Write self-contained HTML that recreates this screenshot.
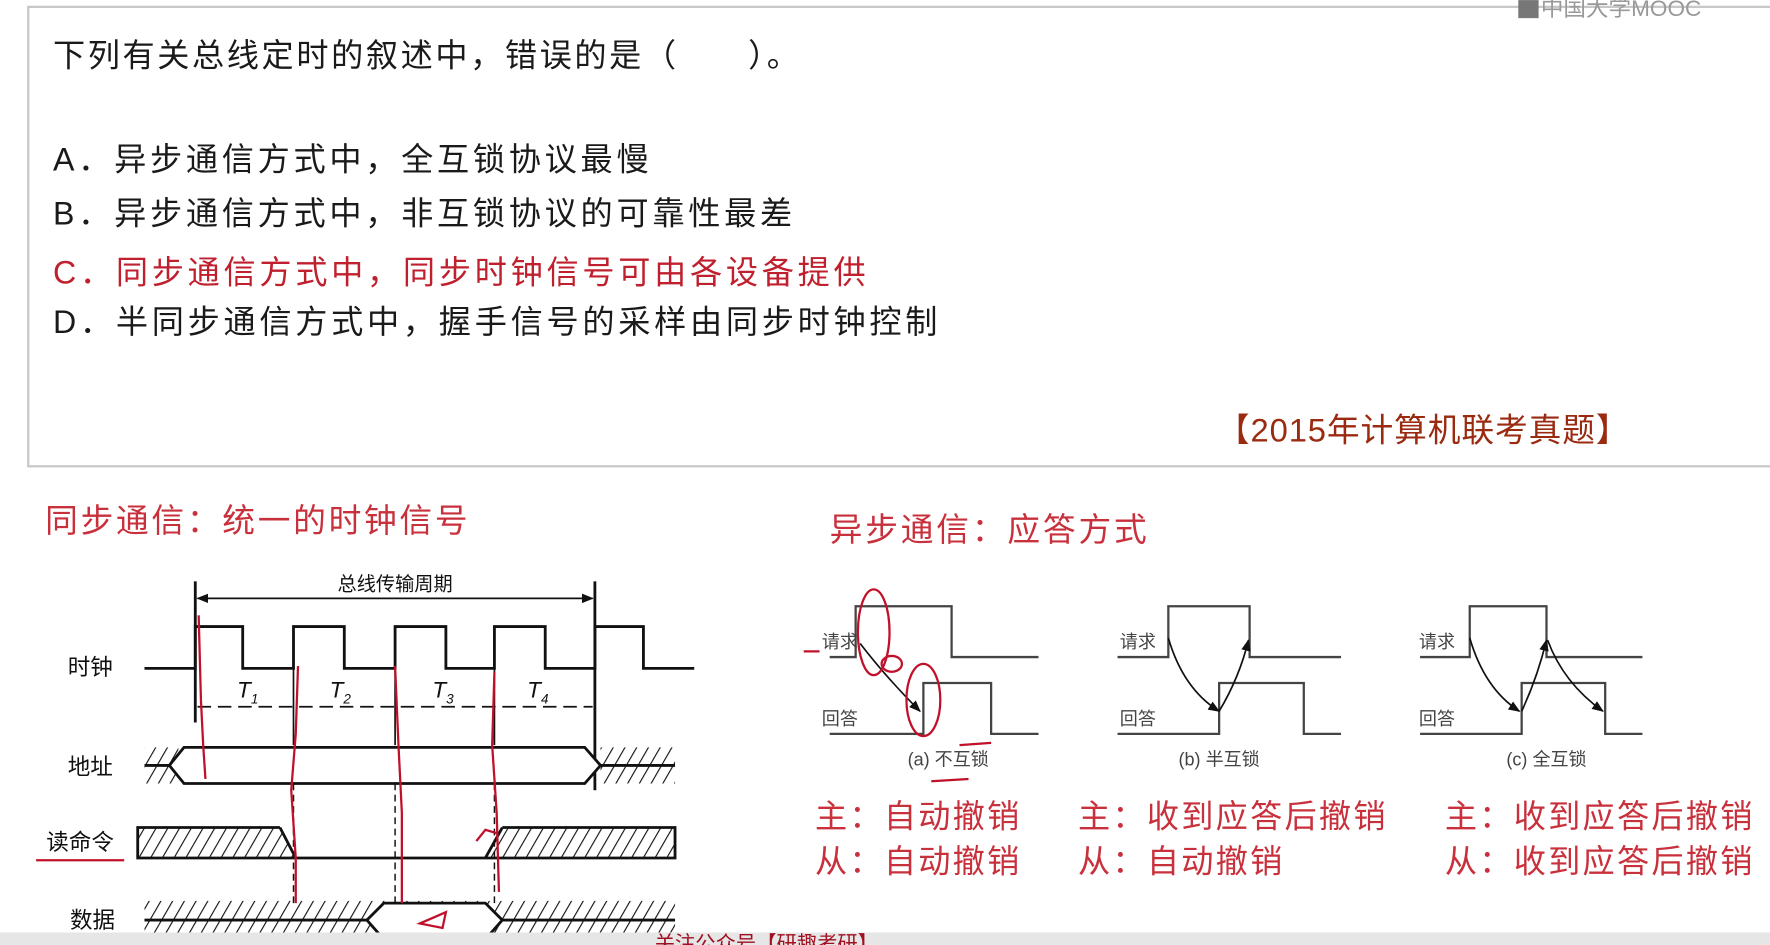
<!DOCTYPE html>
<html><head><meta charset="utf-8"><style>
html,body{margin:0;padding:0;background:#fff;width:1770px;height:945px;overflow:hidden}
svg{display:block}
text{font-family:"Liberation Sans","Noto Sans CJK SC",sans-serif}
.cjk{font-family:"Noto Sans CJK SC",sans-serif}
.serif{font-family:"Liberation Serif","Noto Serif CJK SC",serif}
</style></head><body>
<svg width="1770" height="945" viewBox="0 0 1568 837" xmlns="http://www.w3.org/2000/svg">
<defs>
<pattern id="h" width="9" height="9" patternUnits="userSpaceOnUse" patternTransform="rotate(30)">
<line x1="0" y1="0" x2="0" y2="9" stroke="#111" stroke-width="2"/>
</pattern>
<marker id="ar" viewBox="0 0 10 10" refX="9" refY="5" markerWidth="7" markerHeight="7" orient="auto-start-reverse"><path d="M0,1 L10,5 L0,9z" fill="#111"/></marker>
</defs>
<rect x="0" y="0" width="1568" height="837" fill="#fff"/>
<rect x="25" y="6" width="1560" height="407" fill="#fff" stroke="#c8c8c8" stroke-width="2"/>
<text x="1365" y="14" font-size="20" fill="#999">中国大学MOOC</text>
<rect x="1345" y="0" width="18" height="16" fill="#777"/>
<g font-size="28.5" fill="#1a1a1a" letter-spacing="3.3">
<text x="47" y="59" letter-spacing="2.3">下列有关总线定时的叙述中，错误的是（　　）。</text>
<text x="47" y="151">A．异步通信方式中，全互锁协议最慢</text>
<text x="47" y="199">B．异步通信方式中，非互锁协议的可靠性最差</text>
<text x="47" y="251" fill="#c0202e">C．同步通信方式中，同步时钟信号可由各设备提供</text>
<text x="47" y="295">D．半同步通信方式中，握手信号的采样由同步时钟控制</text>
</g>
<text x="1078" y="391" font-size="29" fill="#9a2a10" letter-spacing="0.8">【2015年计算机联考真题】</text>

<text x="40" y="471" font-size="29" fill="#c8303c" class="cjk" letter-spacing="2.4">同步通信：统一的时钟信号</text>
<text x="735" y="479" font-size="29" fill="#c8303c" class="cjk" letter-spacing="2.5">异步通信：应答方式</text>

<g stroke="#111" stroke-width="2.5" fill="none">
<line x1="173" y1="515" x2="173" y2="640"/>
<line x1="527" y1="515" x2="527" y2="700"/>
<line x1="175" y1="530" x2="525" y2="530" marker-start="url(#ar)" marker-end="url(#ar)" stroke-width="1.5"/>
<polyline points="128,592 173,592 173,555 215,555 215,592 260,592 260,555 305,555 305,592 350,592 350,555 395,555 395,592 438,592 438,555 483,555 483,592 527,592 527,555 570,555 570,592 615,592"/>
<line x1="175" y1="626" x2="525" y2="626" stroke-width="1.5" stroke-dasharray="12,6"/>
<line x1="260" y1="592" x2="260" y2="660" stroke-width="1.5"/>
<line x1="350" y1="592" x2="350" y2="660" stroke-width="1.5"/>
<line x1="438" y1="592" x2="438" y2="660" stroke-width="1.5"/>
</g>
<text x="350" y="523" font-size="17" text-anchor="middle" fill="#111" class="cjk">总线传输周期</text>
<g font-size="20" font-style="italic" fill="#111" class="serif">
<text x="210" y="618">T<tspan font-size="12" dy="5">1</tspan></text>
<text x="292" y="618">T<tspan font-size="12" dy="5">2</tspan></text>
<text x="383" y="618">T<tspan font-size="12" dy="5">3</tspan></text>
<text x="467" y="618">T<tspan font-size="12" dy="5">4</tspan></text>
</g>
<g font-size="20" fill="#111" class="cjk">
<text x="60" y="598">时钟</text>
<text x="60" y="686">地址</text>
<text x="41" y="753">读命令</text>
<text x="62" y="822">数据</text>
</g>
<rect x="128" y="662" width="30" height="32" fill="url(#h)"/>
<rect x="532" y="662" width="66" height="32" fill="url(#h)"/>
<polygon points="150,678 163,662 518,662 532,678 518,694 163,694" stroke="#111" stroke-width="2.5" fill="#fff"/>
<g stroke="#111" stroke-width="2.5"><line x1="128" y1="678" x2="150" y2="678"/><line x1="532" y1="678" x2="598" y2="678"/></g>
<polygon points="122,733 248,733 262,760 122,760" fill="url(#h)"/>
<polygon points="445,733 598,733 598,760 430,760" fill="url(#h)"/>
<g stroke="#111" stroke-width="2.5" fill="none">
<polyline points="248,733 122,733 122,760 598,760 598,733 445,733"/>
<line x1="248" y1="733" x2="262" y2="760"/><line x1="445" y1="733" x2="430" y2="760"/>
</g>
<rect x="128" y="798" width="470" height="36" fill="url(#h)"/>
<polygon points="325,815 340,800 430,800 445,815 430,832 340,832" fill="#fff" stroke="#111" stroke-width="2.5"/>
<g stroke="#111" stroke-width="2.5"><line x1="128" y1="815" x2="325" y2="815"/><line x1="445" y1="815" x2="598" y2="815"/></g>
<g stroke="#111" stroke-width="1.3" stroke-dasharray="6,4">
<line x1="260" y1="694" x2="260" y2="800"/><line x1="350" y1="694" x2="350" y2="800"/><line x1="438" y1="694" x2="438" y2="800"/>
</g>
<g stroke="#c0102a" stroke-width="2" fill="none">
<path d="M176,545 L178,620 L180,660 L182,690"/>
<path d="M264,590 L262,650 L258,700 L262,760 L262,800"/>
<path d="M350,590 L353,660 L356,720 L356,800"/>
<path d="M438,595 L436,660 L440,720 L442,790"/>
<path d="M32,762 L110,762"/>
<path d="M372,818 L395,808 L392,822 Z"/>
<path d="M422,745 L430,735 L440,738"/>
</g>

<g stroke="#444" stroke-width="2" fill="none">
<polyline points="735,582 758,582 758,537 843,537 843,582 920,582"/>
<polyline points="735,650 818,650 818,605 878,605 878,650 920,650"/>
<polyline points="990,582 1035,582 1035,537 1107,537 1107,582 1188,582"/>
<polyline points="990,650 1080,650 1080,605 1155,605 1155,650 1188,650"/>
<polyline points="1258,582 1302,582 1302,537 1370,537 1370,582 1455,582"/>
<polyline points="1258,650 1348,650 1348,605 1422,605 1422,650 1455,650"/>
</g>
<g stroke="#111" stroke-width="1.5" fill="none">
<path d="M762,570 Q785,600 815,630" marker-end="url(#ar)"/>
<path d="M1035,565 Q1048,610 1080,630" marker-end="url(#ar)"/>
<path d="M1080,630 Q1098,600 1106,567" marker-end="url(#ar)"/>
<path d="M1302,565 Q1315,610 1346,630" marker-end="url(#ar)"/>
<path d="M1348,630 Q1362,600 1370,567" marker-end="url(#ar)"/>
<path d="M1371,567 Q1385,605 1420,630" marker-end="url(#ar)"/>
</g>
<g font-size="16" fill="#444" class="serif">
<text x="728" y="574">请求</text><text x="728" y="642">回答</text>
<text x="992" y="574">请求</text><text x="992" y="642">回答</text>
<text x="1257" y="574">请求</text><text x="1257" y="642">回答</text>
<text x="840" y="678" text-anchor="middle">(a) 不互锁</text>
<text x="1080" y="678" text-anchor="middle">(b) 半互锁</text>
<text x="1370" y="678" text-anchor="middle">(c) 全互锁</text>
</g>
<g stroke="#c0102a" stroke-width="2" fill="none">
<ellipse cx="774" cy="560" rx="14" ry="38"/>
<ellipse cx="818" cy="620" rx="15" ry="32"/>
<ellipse cx="790" cy="588" rx="9" ry="7"/>
<line x1="712" y1="577" x2="726" y2="577"/>
<line x1="850" y1="660" x2="878" y2="658"/>
<line x1="825" y1="692" x2="858" y2="690"/>
</g>
<g font-size="28.5" fill="#c8303c" class="cjk" letter-spacing="2">
<text x="722" y="733">主：自动撤销</text>
<text x="722" y="773">从：自动撤销</text>
<text x="955" y="733">主：收到应答后撤销</text>
<text x="955" y="773">从：自动撤销</text>
<text x="1280" y="733">主：收到应答后撤销</text>
<text x="1280" y="773">从：收到应答后撤销</text>
</g>
<rect x="0" y="826" width="1568" height="11" fill="#e6e6e6"/>
<text x="580" y="842" font-size="18" fill="#a01020" class="cjk">关注公众号【研趣考研】</text>
</svg>
</body></html>
